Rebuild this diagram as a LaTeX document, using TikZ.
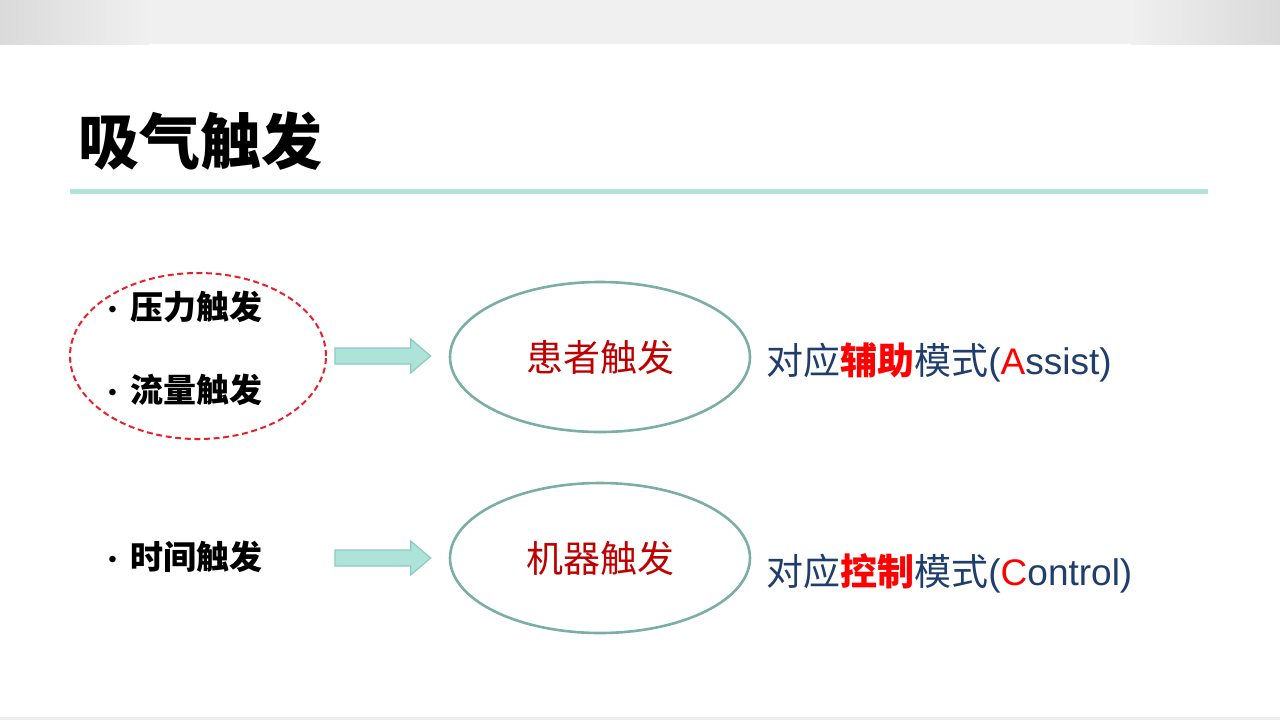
\documentclass[tikz,border=0pt]{standalone}
\usepackage{fontspec}
\setmainfont{Liberation Sans}
\newfontfamily\cjk{Noto Sans CJK SC}
\usetikzlibrary{shapes.geometric,calc,positioning}

\definecolor{topgrey}{HTML}{F0F0F0}
\definecolor{edgegrey}{HTML}{DADADA}
\definecolor{rulecol}{HTML}{B0E3DA}
\definecolor{dashred}{HTML}{E8202A}
\definecolor{ellcol}{HTML}{7BAEA4}
\definecolor{darkred}{HTML}{C00000}
\definecolor{navy}{HTML}{1F3D6D}
\definecolor{arrfill}{HTML}{ADE3D9}
\definecolor{arredge}{HTML}{8CCBC0}

% small bullet in front of an item
\newcommand\itembullet{{\rmfamily\mdseries\fontsize{12pt}{12pt}\selectfont\raisebox{1pt}{•}}\hspace{7pt}}

% block arrow from tail point to tip point
\newcommand\blockarrow[2]{%
  \draw[barrow] let \p1=(#1), \p2=(#2) in
    (\x1,\y1+4pt) -- (\x2-10pt,\y1+4pt) -- (\x2-10pt,\y1+8.5pt) -- (\x2,\y1)
    -- (\x2-10pt,\y1-8.5pt) -- (\x2-10pt,\y1-4pt) -- (\x1,\y1-4pt) -- cycle;}

\begin{document}
\begin{tikzpicture}[
  x=0.5pt, y=-0.5pt,
  title/.style = {font=\cjk\bfseries\fontsize{30.5pt}{36pt}\selectfont, anchor=west, inner sep=0pt},
  item/.style = {font=\cjk\bfseries\fontsize{16.5pt}{20pt}\selectfont, anchor=west, inner sep=0pt},
  group/.style = {draw=dashred, ellipse, line width=1pt, dash pattern=on 3pt off 1.8pt,
    minimum width=128pt, minimum height=83pt, inner sep=0pt},
  trig/.style = {draw=ellcol, ellipse, line width=1.3pt, minimum width=150pt, minimum height=75pt,
    font=\cjk\fontsize{18.5pt}{22pt}\selectfont, text=darkred},
  mode/.style = {font=\fontsize{18.5pt}{22pt}\selectfont, text=navy, anchor=west, inner sep=0pt},
  barrow/.style = {fill=arrfill, draw=arredge, line width=0.6pt}
]

% ---- page ----
\fill[white] (0,0) rectangle (1280,720);
\useasboundingbox (0,0) rectangle (1280,720);
\fill[topgrey] (0,0) rectangle (1280,44);
\shade[left color=edgegrey, right color=topgrey] (0,0) rectangle (150,44);
\shade[left color=topgrey, right color=edgegrey] (1130,0) rectangle (1280,44);
\fill[black!7] (0,717) rectangle (1280,720);

% ---- title ----
\node[title] (ttl) at (78,141) {吸气触发};
\draw[rulecol, line width=2.5pt] (70,191) -- (1208,191);

% ---- nodes ----
\node[group] (grp) at (198,356) {};
\node[item] (press) at (108,307) {\itembullet 压力触发};
\node[item] (flow) at (108,390) {\itembullet 流量触发};
\node[item] (time) at (108,557) {\itembullet 时间触发};

\node[trig] (pat) at (600,357) {患者触发};
\node[trig] (mach) at (600,558) {机器触发};

\node[mode] (assist) at (766,362) {{\cjk 对应}{\cjk\bfseries\color{red}辅助}{\cjk 模式}(\textcolor{red}{A}ssist)};
\node[mode] (ctrl) at (766,573) {{\cjk 对应}{\cjk\bfseries\color{red}控制}{\cjk 模式}(\textcolor{red}{C}ontrol)};

% ---- arrows ----
\coordinate (a1) at ($(grp.east)+(8,0)$);
\coordinate (a2) at (a1 |- mach);
\blockarrow{a1}{$(pat.west)+(-18,0)$}
\blockarrow{a2}{$(mach.west)+(-18,0)$}

\end{tikzpicture}
\end{document}
